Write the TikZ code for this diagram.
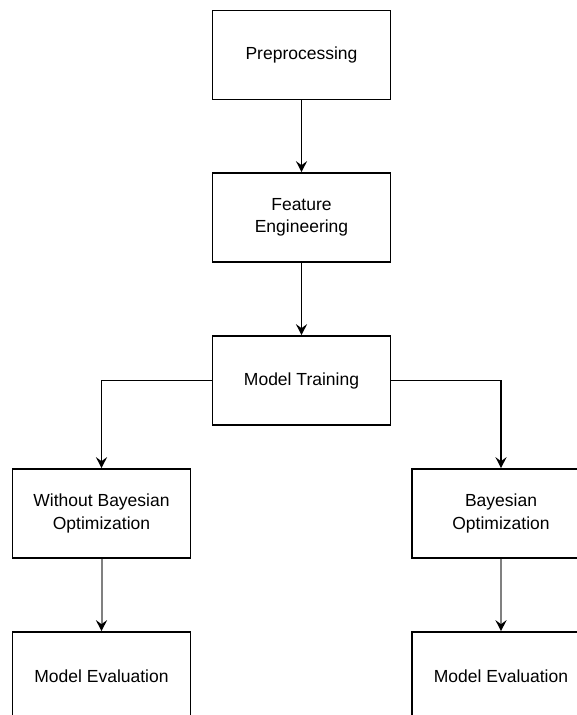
\documentclass[tikz,border=0pt]{standalone}
\usepackage{fontspec}
\setmainfont{Liberation Sans}
\usepackage{xcolor}
\usepackage{tikz}
\usetikzlibrary{shapes,calc,arrows.meta}
\definecolor{flowgray}{HTML}{808080}

\begin{document}
\begin{tikzpicture}[x=1pt,y=-1pt]
            \tikzstyle{stage}=[draw, line width=1.6pt, minimum width=178pt, minimum height=89pt, align=center, font=\fontsize{17.5}{22.5}\selectfont];
            \tikzstyle{flow}=[line width=1.6pt, -{Stealth[length=11pt,width=11pt,inset=4pt]}];
            \tikzstyle{grayflow}=[line width=2pt, draw=flowgray, -{Stealth[length=11pt,width=11pt,inset=4pt,black]}];

            % Define the page and cut off what runs over its edge
            \useasboundingbox (0,0) rectangle (577,715);
            \clip (0,0) rectangle (577,715);

            % Main chain of stages
            \node[stage] (pre) at (301.5,55) {Preprocessing};
            \node[stage] (feat) at (301.5,217.5) {Feature\\Engineering};
            \node[stage] (train) at (301.5,380.5) {Model Training};

            % The two branches
            \node[stage] (nobayes) at (101.5,513.5) {Without Bayesian\\Optimization};
            \node[stage] (bayes) at (501,513.5) {Bayesian\\Optimization};
            \node[stage] (evalA) at (101.5,676.5) {Model Evaluation};
            \node[stage] (evalB) at (501,676.5) {Model Evaluation};

            % Connect the stages
            \draw[flow] (pre) -- (feat);
            \draw[flow] (feat) -- (train);
            \draw[flow] (train.west) -| (nobayes.north);
            \draw[flow] (train.east) -| (bayes.north);
            \draw[grayflow] (nobayes) -- (evalA);
            \draw[grayflow] (bayes) -- (evalB);
        \end{tikzpicture}
\end{document}
